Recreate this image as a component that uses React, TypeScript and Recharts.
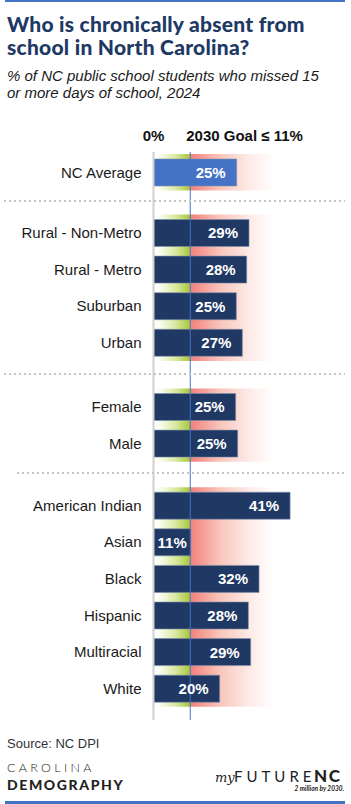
import React from 'react';
import { BarChart, Bar, XAxis, YAxis, ReferenceArea, ReferenceLine, LabelList } from 'recharts';

const overallCategories = ['NC Average'];
const overallValues = [24.9];
const localeCategories = ['Rural - Non-Metro', 'Rural - Metro', 'Suburban', 'Urban'];
const localeValues = [28.6, 27.9, 24.8, 26.6];
const genderCategories = ['Female', 'Male'];
const genderValues = [24.6, 25.2];
const raceCategories = ['American Indian', 'Asian', 'Black', 'Hispanic', 'Multiracial', 'White'];
const raceValues = [40.9, 11.2, 31.6, 28.4, 29.1, 19.8];
const goalValue = 11;
const headerTicks = [0, 11];
const headerLabels = ['0%', '2030 Goal \u2264 11%'];

const NAVY = '#203864';
const BLUE = '#4472c4';
const ROW_H = 36.6;
const HEADER_H = 34;
const FONT = '"Liberation Sans", Arial, sans-serif';

type SectionProps = {
  id: string;
  categories: string[];
  values: number[];
  color: string;
  top: number;
  padTop: number;
  padBottom: number;
  header?: boolean;
};

const HeaderTick = (props: any) => {
  const { x, y, payload } = props;
  const idx = headerTicks.indexOf(payload.value);
  const isGoal = idx === 1;
  return (
    <text
      x={isGoal ? x - 4 : x}
      y={y}
      textAnchor={isGoal ? 'start' : 'middle'}
      fontFamily={FONT}
      fontWeight={700}
      fontSize={15}
      fill="#111"
    >
      {headerLabels[idx]}
    </text>
  );
};

const ValueLabel = (props: any) => {
  const { x, y, width, height, value } = props;
  const text = `${Math.round(Number(value))}%`;
  const textW = text.length * 9.6;
  const fits = width >= textW + 22;
  const cx = fits ? x + width - 11 : x + width / 2;
  return (
    <text
      x={cx}
      y={y + height / 2}
      dy="0.36em"
      textAnchor={fits ? 'end' : 'middle'}
      fontFamily={FONT}
      fontWeight={700}
      fontSize={15}
      fill="#ffffff"
    >
      {text}
    </text>
  );
};

function Section({ id, categories, values, color, top, padTop, padBottom, header }: SectionProps) {
  const data = categories.map((c, i) => ({ name: c, value: values[i] }));
  const height = (header ? HEADER_H : 0) + padTop + categories.length * ROW_H + padBottom;
  return (
    <div style={{ position: 'absolute', left: 0, top, width: 351, height }}>
      <BarChart
        width={351}
        height={height}
        data={data}
        layout="vertical"
        margin={{ top: 0, right: 30.5, bottom: 0, left: 0 }}
        barSize={27}
      >
        <defs>
          <linearGradient id={`green-${id}`} x1="0" y1="0" x2="1" y2="0">
            <stop offset="0" stopColor="#ffffff" />
            <stop offset="0.15" stopColor="#fbfdf3" />
            <stop offset="0.6" stopColor="#d9e9a0" />
            <stop offset="1" stopColor="#a8c63a" />
          </linearGradient>
          <linearGradient id={`red-${id}`} x1="0" y1="0" x2="1" y2="0">
            <stop offset="0" stopColor="#f2807c" />
            <stop offset="0.35" stopColor="#f9c4ba" />
            <stop offset="0.7" stopColor="#fdeae6" />
            <stop offset="1" stopColor="#ffffff" />
          </linearGradient>
        </defs>
        <XAxis
          type="number"
          domain={[0, 50]}
          orientation="top"
          hide={!header}
          height={HEADER_H}
          ticks={headerTicks}
          tick={<HeaderTick />}
          tickLine={false}
          axisLine={false}
          tickSize={0}
          tickMargin={11}
          allowDataOverflow
        />
        <YAxis
          type="category"
          dataKey="name"
          width={153.5}
          padding={{ top: padTop, bottom: padBottom }}
          tickLine={false}
          tickSize={0}
          tickMargin={12}
          axisLine={{ stroke: '#cfcfcf', strokeWidth: 2 }}
          tick={{ fontFamily: FONT, fontSize: 15, fill: '#1a1a1a' }}
          interval={0}
        />
        <ReferenceArea x1={0} x2={goalValue} fill={`url(#green-${id})`} fillOpacity={1} stroke="none" />
        <ReferenceArea x1={goalValue} x2={36} fill={`url(#red-${id})`} fillOpacity={1} stroke="none" />
        <Bar dataKey="value" fill={color} stroke="#8090ac" strokeWidth={0.6} isAnimationActive={false}>
          <LabelList dataKey="value" content={<ValueLabel />} />
        </Bar>
        <ReferenceLine x={goalValue} stroke={BLUE} strokeWidth={1} />
      </BarChart>
    </div>
  );
}

export default function App() {
  return (
    <div style={{ position: 'absolute', left: 0, top: 0, width: 351, height: 804, background: '#fff', overflow: 'hidden' }}>
      <Section id="a" categories={overallCategories} values={overallValues} color={BLUE} top={118} padTop={2} padBottom={10.4} header />
      <Section id="b" categories={localeCategories} values={localeValues} color={NAVY} top={201} padTop={13.5} padBottom={13.1} />
      <Section id="c" categories={genderCategories} values={genderValues} color={NAVY} top={374} padTop={14.5} padBottom={11.3} />
      <Section id="d" categories={raceCategories} values={raceValues} color={NAVY} top={473} padTop={14.2} padBottom={13.2} />
      <svg width={351} height={804} style={{ position: 'absolute', left: 0, top: 0, pointerEvents: 'none' }}>
        <rect x={5} y={0} width={340} height={2} fill={BLUE} />
        <text x={7} y={32} fontFamily="Lato, sans-serif" fontWeight={900} fontSize={21} letterSpacing={0.25} fill={NAVY}>Who is chronically absent from</text>
        <text x={7} y={55} fontFamily="Lato, sans-serif" fontWeight={900} fontSize={21} letterSpacing={0.25} fill={NAVY}>school in North Carolina?</text>
        <text x={7} y={81} fontFamily={FONT} fontStyle="italic" fontSize={15} fill="#1a1a1a">% of NC public school students who missed 15</text>
        <text x={7} y={98} fontFamily={FONT} fontStyle="italic" fontSize={15} fill="#1a1a1a">or more days of school, 2024</text>
        <line x1={4} x2={345} y1={201} y2={201} stroke="#c4c4c4" strokeWidth={2} strokeDasharray="2 3" />
        <line x1={4} x2={345} y1={374} y2={374} stroke="#c4c4c4" strokeWidth={2} strokeDasharray="2 3" />
        <line x1={17} x2={345} y1={473} y2={473} stroke="#c4c4c4" strokeWidth={2} strokeDasharray="2 3" />
        <text x={7} y={748} fontFamily={FONT} fontSize={13} fill="#333">Source: NC DPI</text>
        <text x={7} y={772} fontFamily="Lato, sans-serif" fontWeight={300} fontSize={12.5} letterSpacing={3.3} fill="#222">CAROLINA</text>
        <text x={7} y={790} fontFamily="Lato, sans-serif" fontWeight={900} fontSize={14} letterSpacing={1.6} fill="#222">DEMOGRAPHY</text>
        <text x={215} y={782} fontFamily='"DejaVu Serif", serif' fontStyle="italic" fontSize={13} fill="#222">my</text>
        <text x={234} y={782} fontFamily="Lato, sans-serif" fontWeight={400} fontSize={15} letterSpacing={4} fill="#222">FUTURE</text>
        <text x={314} y={782} fontFamily="Lato, sans-serif" fontWeight={900} fontSize={17} letterSpacing={1.5} fill="#222">NC</text>
        <text x={344} y={791} textAnchor="end" fontFamily="Lato, sans-serif" fontStyle="italic" fontWeight={700} fontSize={6.5} fill="#222">2 million by 2030.</text>
        <rect x={5} y={801} width={340} height={3} fill={BLUE} />
      </svg>
    </div>
  );
}
